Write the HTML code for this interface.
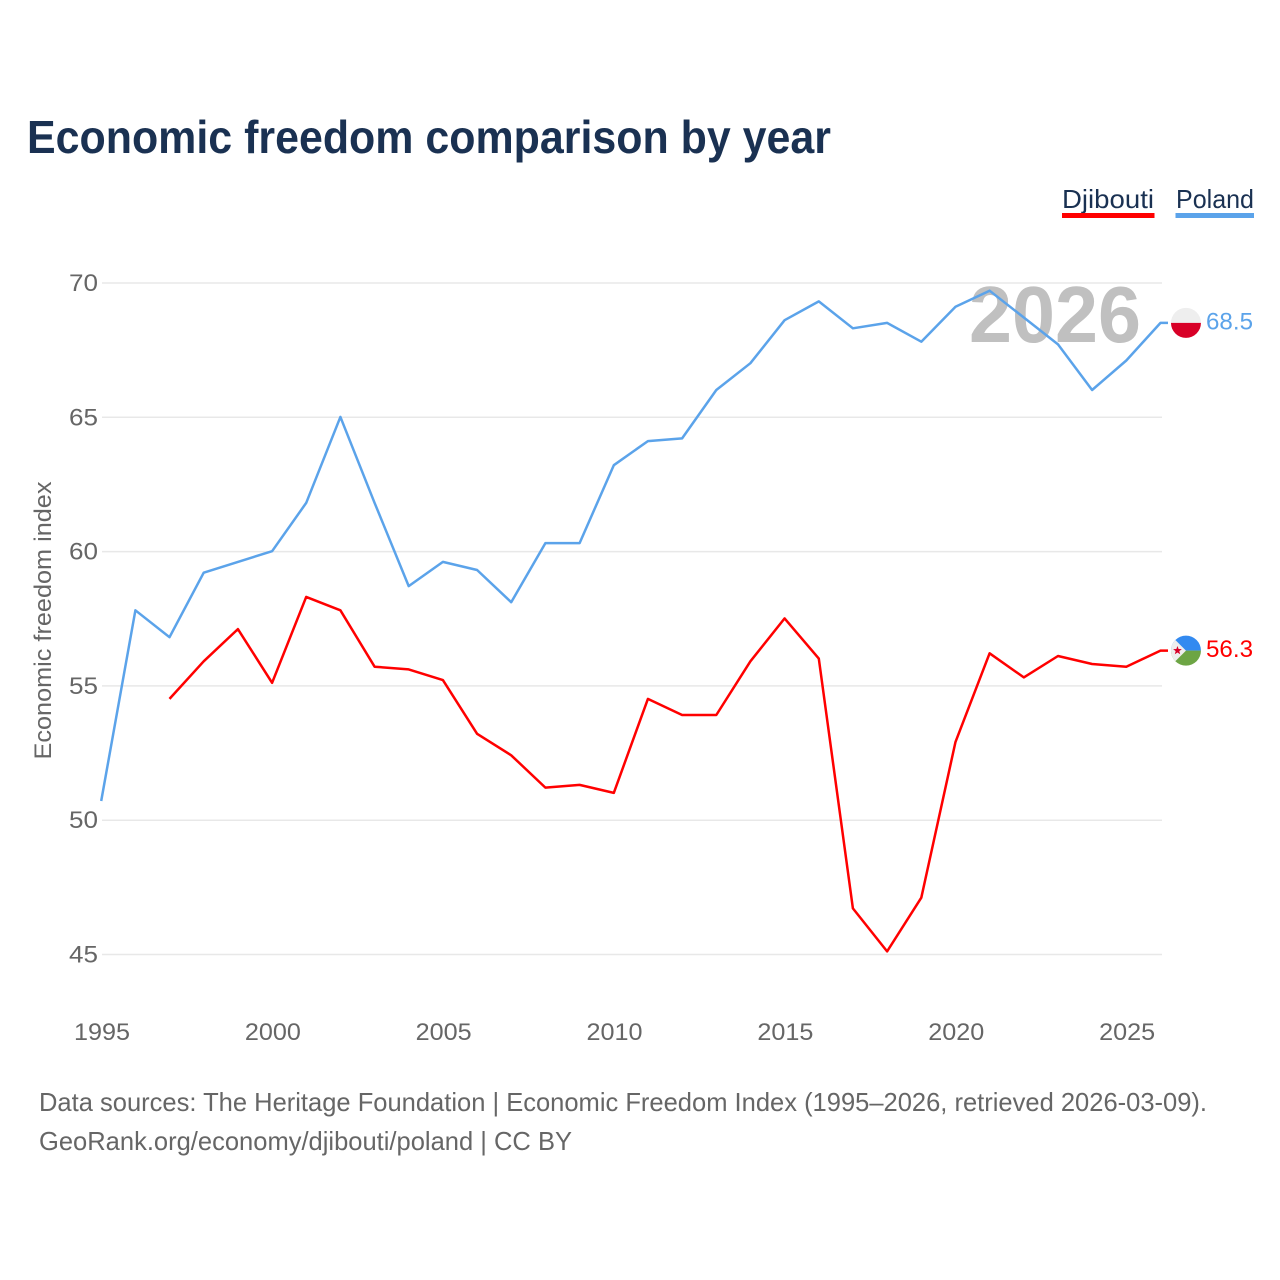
<!DOCTYPE html>
<html lang="en">
<head>
<meta charset="utf-8">
<title>Economic freedom comparison by year</title>
<style>
html,body{margin:0;padding:0;background:#fff;}
svg{display:block;font-family:"Liberation Sans",sans-serif;}
</style>
</head>
<body>
<svg id="chart" xmlns="http://www.w3.org/2000/svg" width="1280" height="1280" viewBox="0 0 1280 1280">
  <defs>
    <clipPath id="poland-clip"><circle id="poland-clip-circle" r="15"/></clipPath>
    <clipPath id="djibouti-clip"><circle id="djibouti-clip-circle" r="15"/></clipPath>
  </defs>
  <rect width="1280" height="1280" fill="#fff"/>
  <text x="27" y="153" font-size="46" font-weight="700" fill="#1a3152" textLength="804" lengthAdjust="spacingAndGlyphs">Economic freedom comparison by year</text>

  <g>
    <text x="1062" y="208" font-size="26" fill="#1a3152" textLength="92" lengthAdjust="spacingAndGlyphs">Djibouti</text>
    <rect x="1062" y="213" width="92.500" height="5" fill="#ff0000"/>
  </g>
  <g>
    <text x="1176" y="208" font-size="26" fill="#1a3152" textLength="78" lengthAdjust="spacingAndGlyphs">Poland</text>
    <rect x="1175.500" y="213" width="78.500" height="5" fill="#5ba3ea"/>
  </g>

  <g id="grid"></g>
  <g id="y-ticks"></g>
  <g id="x-ticks"></g>
  <text transform="translate(51,620.500) rotate(-90)" text-anchor="middle" font-size="24" fill="#666" textLength="278" lengthAdjust="spacingAndGlyphs">Economic freedom index</text>

  <text x="969" y="342" font-size="80" font-weight="700" fill="#c0c0c0" textLength="172" lengthAdjust="spacingAndGlyphs">2026</text>

  <path id="line-poland" fill="none" stroke="#5ba3ea" stroke-width="2.500" stroke-linejoin="round"/>
  <path id="line-djibouti" fill="none" stroke="#ff0000" stroke-width="2.500" stroke-linejoin="round"/>

  <g id="flag-poland" clip-path="url(#poland-clip)">
    <rect id="poland-top" fill="#eeeeee"/>
    <rect id="poland-bottom" fill="#d80027"/>
  </g>
  <g id="flag-djibouti" clip-path="url(#djibouti-clip)">
    <rect id="djibouti-top" fill="#338af0"/>
    <rect id="djibouti-bottom" fill="#6da544"/>
    <path id="djibouti-triangle" fill="#eeeeee"/>
    <path id="djibouti-star" fill="#d80027"/>
  </g>
  <text id="value-poland" x="1206" font-size="24" fill="#5ba3ea" textLength="47" lengthAdjust="spacingAndGlyphs"></text>
  <text id="value-djibouti" x="1206" font-size="24" fill="#ff0000" textLength="47" lengthAdjust="spacingAndGlyphs"></text>

  <text x="39" y="1111" font-size="26" fill="#666" textLength="1168" lengthAdjust="spacingAndGlyphs">Data sources: The Heritage Foundation | Economic Freedom Index (1995–2026, retrieved 2026-03-09).</text>
  <text x="39" y="1150" font-size="26" fill="#666" textLength="533" lengthAdjust="spacingAndGlyphs">GeoRank.org/economy/djibouti/poland | CC BY</text>
</svg>
<script>
const years = [1995,1996,1997,1998,1999,2000,2001,2002,2003,2004,2005,2006,2007,2008,2009,2010,2011,2012,2013,2014,2015,2016,2017,2018,2019,2020,2021,2022,2023,2024,2025,2026];
const polandValues = [50.7,57.8,56.8,59.2,59.6,60.0,61.8,65.0,61.8,58.7,59.6,59.3,58.1,60.3,60.3,63.2,64.1,64.2,66.0,67.0,68.6,69.3,68.3,68.5,67.8,69.1,69.7,68.7,67.7,66.0,67.1,68.5];
const djiboutiValues = [null,null,54.5,55.9,57.1,55.1,58.3,57.8,55.7,55.6,55.2,53.2,52.4,51.2,51.3,51.0,54.5,53.9,53.9,55.9,57.5,56.0,46.7,45.1,47.1,52.9,56.2,55.3,56.1,55.8,55.7,56.3];
const yTickValues = [45,50,55,60,65,70];
const xTickValues = [1995,2000,2005,2010,2015,2020,2025];

const NS = 'http://www.w3.org/2000/svg';
function xScale(year){ return 101.2 + (year - 1995) * 34.17; }
function yScale(v){ return 282.6 + (70 - v) * 26.86; }
const $ = id => document.getElementById(id);

function linePath(values){
  let d = '', lastX = 0, lastY = 0;
  values.forEach((v, i) => {
    if (v === null) return;
    lastX = xScale(years[i]);
    lastY = yScale(v);
    d += (d ? 'L' : 'M') + lastX.toFixed(1) + ' ' + lastY.toFixed(1);
  });
  return d + 'L' + (lastX + 7.5).toFixed(1) + ' ' + lastY.toFixed(1);
}
$('line-poland').setAttribute('d', linePath(polandValues));
$('line-djibouti').setAttribute('d', linePath(djiboutiValues));

yTickValues.forEach(v => {
  const y = yScale(v) + 0.4;
  const line = document.createElementNS(NS, 'line');
  line.setAttribute('x1', 102);
  line.setAttribute('x2', 1162);
  line.setAttribute('y1', y);
  line.setAttribute('y2', y);
  line.setAttribute('stroke', '#e8e8e8');
  line.setAttribute('stroke-width', '1.500');
  
  
  $('grid').appendChild(line);

  const label = document.createElementNS(NS, 'text');
  label.setAttribute('x', 69);
  label.setAttribute('y', y + 8);
  label.setAttribute('font-size', '24');
  label.setAttribute('fill', '#666');
  label.setAttribute('textLength', '29');
  label.setAttribute('lengthAdjust', 'spacingAndGlyphs');
  
  
  label.textContent = v;
  $('y-ticks').appendChild(label);
});

xTickValues.forEach(year => {
  const label = document.createElementNS(NS, 'text');
  label.setAttribute('x', xScale(year) + 0.8 - 28);
  label.setAttribute('y', 1040);
  label.setAttribute('font-size', '24');
  label.setAttribute('fill', '#666');
  label.setAttribute('textLength', '56');
  label.setAttribute('lengthAdjust', 'spacingAndGlyphs');
  
  
  label.textContent = year;
  $('x-ticks').appendChild(label);
});

const last = years.length - 1;
const flagX = xScale(years[last]) + 25.5;
const py = yScale(polandValues[last]);
const dy = yScale(djiboutiValues[last]);

function setRect(id, x, y, w, h){
  const r = $(id);
  r.setAttribute('x', x);
  r.setAttribute('y', y);
  r.setAttribute('width', w);
  r.setAttribute('height', h);
}
function setCircle(id, cx, cy){
  $(id).setAttribute('cx', cx);
  $(id).setAttribute('cy', cy);
}
setCircle('poland-clip-circle', flagX, py);
setRect('poland-top', flagX - 15, py - 16, 30, 16);
setRect('poland-bottom', flagX - 15, py, 30, 16);

setCircle('djibouti-clip-circle', flagX, dy);
setRect('djibouti-top', flagX - 15, dy - 16, 30, 16);
setRect('djibouti-bottom', flagX - 15, dy, 30, 16);
$('djibouti-triangle').setAttribute('d', 'M' + (flagX - 16) + ' ' + (dy - 16) + 'L' + flagX + ' ' + dy + 'L' + (flagX - 16) + ' ' + (dy + 16) + 'Z');
let star = '';
for (let i = 0; i < 10; i++) {
  const r = i % 2 ? 1.9 : 4.6;
  const a = -Math.PI / 2 + i * Math.PI / 5;
  star += (i ? 'L' : 'M') + (flagX - 8.500 + r * Math.cos(a)).toFixed(2) + ' ' + (dy + r * Math.sin(a)).toFixed(2);
}
$('djibouti-star').setAttribute('d', star + 'Z');

$('value-poland').setAttribute('y', py + 6.5);
$('value-poland').textContent = polandValues[last].toFixed(1);
$('value-djibouti').setAttribute('y', dy + 6.5);
$('value-djibouti').textContent = djiboutiValues[last].toFixed(1);
</script>
</body>
</html>
